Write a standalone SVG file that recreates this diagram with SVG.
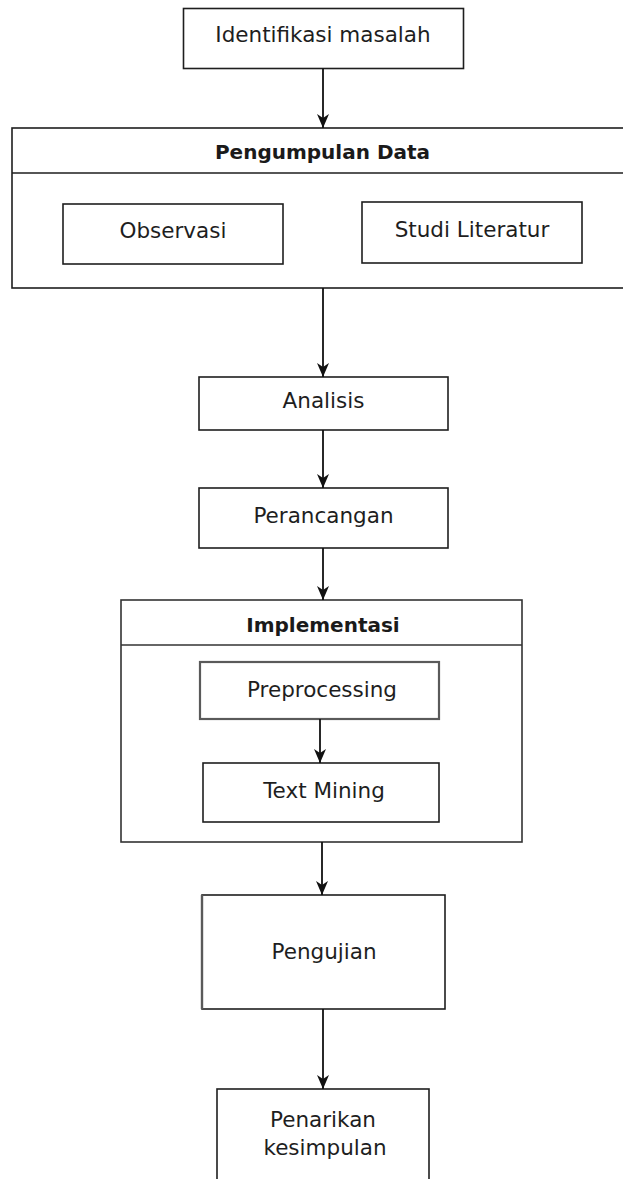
<svg xmlns="http://www.w3.org/2000/svg" width="623" height="1179" viewBox="0 0 623 1179">
<style>
  .box { fill: #ffffff; stroke: #1e1e1e; stroke-width: 1.6; }
  .gbox { fill: #ffffff; stroke: #5a5a5a; stroke-width: 2.2; }
  .sep { stroke: #1e1e1e; stroke-width: 1.6; }
  .t { font-family: "DejaVu Sans", "Liberation Sans", sans-serif; font-size: 21.5px; fill: #1e1e1e; text-anchor: middle; }
  .tb { font-family: "DejaVu Sans", "Liberation Sans", sans-serif; font-size: 20px; font-weight: bold; fill: #1a1a1a; text-anchor: middle; }
  .edge { stroke: #111111; stroke-width: 1.8; fill: none; marker-end: url(#arr); }
</style>
<defs>
  <marker id="arr" markerUnits="userSpaceOnUse" viewBox="0 0 14 12" refX="14" refY="6" markerWidth="14" markerHeight="12" orient="auto">
    <path d="M0,0 L14,6 L0,12 L4,6 Z" fill="#111111"/>
  </marker>
</defs>
<rect width="623" height="1179" fill="#ffffff"/>

<g id="identifikasi">
  <rect class="box" x="183.5" y="8.5" width="280" height="60"/>
  <text class="t" x="323" y="42">Identifikasi masalah</text>
</g>

<g id="pengumpulan">
  <rect class="box" x="12" y="128" width="620" height="160"/>
  <line class="sep" x1="12" y1="173" x2="632" y2="173"/>
  <text class="tb" x="322.5" y="159">Pengumpulan Data</text>
  <g id="observasi">
    <rect class="box" x="63" y="204" width="220" height="60"/>
    <text class="t" x="173" y="238">Observasi</text>
  </g>
  <g id="studi">
    <rect class="box" x="362" y="202" width="220" height="61"/>
    <text class="t" x="472" y="237">Studi Literatur</text>
  </g>
</g>

<g id="analisis">
  <rect class="box" x="199" y="377" width="249" height="53"/>
  <text class="t" x="323.5" y="408">Analisis</text>
</g>

<g id="perancangan">
  <rect class="box" x="199" y="488" width="249" height="60"/>
  <text class="t" x="323.5" y="523">Perancangan</text>
</g>

<g id="implementasi">
  <rect class="box" x="121" y="600" width="401" height="242" style="stroke:#333333"/>
  <line class="sep" x1="121" y1="645" x2="522" y2="645" style="stroke:#333333"/>
  <text class="tb" x="323" y="632">Implementasi</text>
  <g id="preprocessing">
    <rect class="gbox" x="200" y="662" width="239" height="57"/>
    <text class="t" x="322" y="697">Preprocessing</text>
  </g>
  <g id="textmining">
    <rect class="box" x="203" y="763" width="236" height="59"/>
    <text class="t" x="324" y="798">Text Mining</text>
  </g>
</g>

<g id="pengujian">
  <rect class="box" x="202" y="895" width="243" height="114"/>
  <line x1="202" y1="895" x2="202" y2="1009" stroke="#5a5a5a" stroke-width="2.4"/>
  <text class="t" x="324" y="959">Pengujian</text>
</g>

<g id="penarikan">
  <rect class="box" x="217" y="1089" width="212" height="110"/>
  <text class="t" x="323" y="1127">Penarikan</text>
  <text class="t" x="325" y="1155">kesimpulan</text>
</g>

<g id="connectors">
  <line class="edge" x1="323" y1="68.5" x2="323" y2="128"/>
  <line class="edge" x1="323" y1="288" x2="323" y2="377"/>
  <line class="edge" x1="323" y1="430" x2="323" y2="488"/>
  <line class="edge" x1="323" y1="548" x2="323" y2="600"/>
  <line class="edge" x1="320" y1="719" x2="320" y2="763"/>
  <line class="edge" x1="322" y1="842" x2="322" y2="895"/>
  <line class="edge" x1="323" y1="1009" x2="323" y2="1089"/>
</g>
</svg>
